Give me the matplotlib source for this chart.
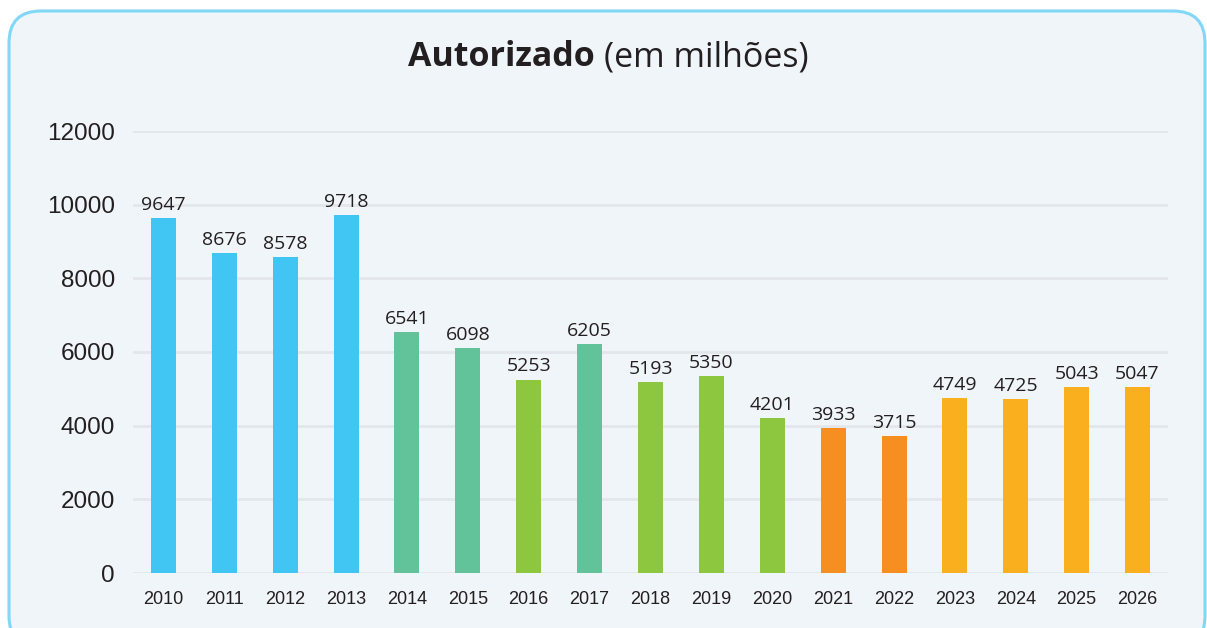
import matplotlib.pyplot as plt
from matplotlib.patches import FancyBboxPatch

anos = [str(a) for a in range(2010, 2027)]
valores = [9647, 8676, 8578, 9718, 6541, 6098, 5253, 6205, 5193, 5350,
           4201, 3933, 3715, 4749, 4725, 5043, 5047]
grupos = ["azul"] * 4 + ["verde", "verde", "lima", "verde", "lima", "lima", "lima",
                         "laranja", "laranja"] + ["amarelo"] * 4
cores_grupo = {"azul": "#41C6F3", "verde": "#62C39A", "lima": "#8DC63F",
               "laranja": "#F68E22", "amarelo": "#FAAF1E"}
y_ticks = [0, 2000, 4000, 6000, 8000, 10000, 12000]

W, H = 1207, 628
fig = plt.figure(figsize=(W / 100, H / 100), dpi=100)
fig.patch.set_facecolor("white")

# cartao de fundo com cantos arredondados
card = FancyBboxPatch((9 / 100, -20 / 100), 1196 / 100, 637 / 100,
                      boxstyle="round,pad=0,rounding_size=0.32",
                      transform=fig.dpi_scale_trans, facecolor="#F0F5FA",
                      edgecolor="#80D7F6", linewidth=2.2, zorder=-5)
fig.patches.append(card)

ax = fig.add_axes([133 / W, 55 / H, (1168 - 133) / W, (573 - 131) / H])
ax.set_facecolor("none")
ax.set_zorder(2)

cores = [cores_grupo[g] for g in grupos]
x = range(len(anos))
bars = ax.bar(x, valores, width=0.41, color=cores, zorder=3)

for b, v in zip(bars, valores):
    ax.annotate(str(v), (b.get_x() + b.get_width() / 2, v), xytext=(0, 3),
                textcoords="offset points", ha="center", va="bottom",
                fontsize=14, family="Open Sans", color="#231F20")

ax.set_xlim(-0.5, len(anos) - 0.5)
ax.set_ylim(0, 12000)
ax.set_yticks(y_ticks)
ax.set_yticklabels([str(t) for t in y_ticks], fontsize=17.5, family="Liberation Sans",
                   color="#231F20")
ax.set_xticks(list(x))
ax.set_xticklabels(anos, fontsize=13, family="Liberation Sans", color="#231F20")
ax.tick_params(axis="both", length=0)
ax.tick_params(axis="y", pad=13)
ax.tick_params(axis="x", pad=13)
ax.grid(axis="y", color="#E3E6EA", linewidth=2, zorder=1)
for s in ax.spines.values():
    s.set_visible(False)

fig.text(595 / W, 1 - 57 / H, "Autorizado", ha="right", va="center",
         fontsize=24.5, fontweight="bold", family="Open Sans", color="#231F20")
fig.text(604 / W, 1 - 57 / H, "(em milhões)", ha="left", va="center",
         fontsize=24.5, family="Open Sans", color="#231F20")

fig.savefig("out.png", dpi=100, facecolor="white")
